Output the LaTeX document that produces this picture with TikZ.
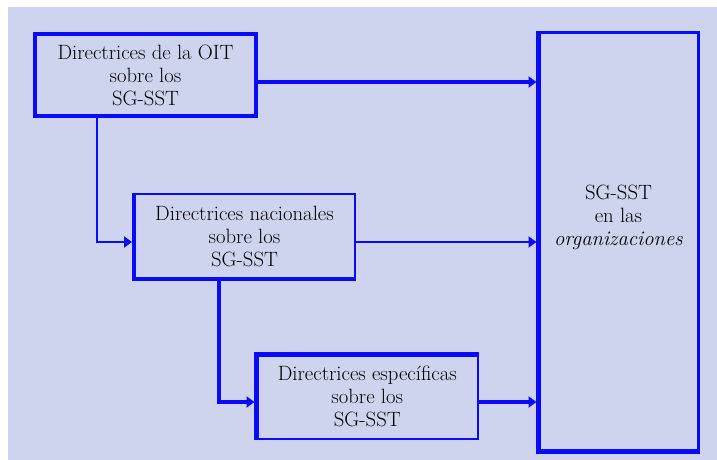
\documentclass[tikz,border=0pt]{standalone}
\usepackage{fontspec}
\usetikzlibrary{arrows.meta,calc}
\definecolor{bgcol}{RGB}{206,211,238}
\definecolor{lineblue}{RGB}{10,10,250}
\begin{document}
\begin{tikzpicture}[x=1pt,y=-1pt,
  font=\rmfamily\fontsize{20.7}{23}\selectfont,
  box/.style={draw=lineblue,line width=2.5pt,fill=bgcol,inner sep=0pt,outer sep=0pt,align=center},
  thickside/.style={draw=lineblue,line width=4.5pt,shorten <=-1.25pt,shorten >=-1.25pt},
  thinconn/.style={draw=lineblue,line width=2pt},
  thickconn/.style={draw=lineblue,line width=3.5pt},
  tip/.style={-{Triangle[length=8pt,width=11pt]}}]
\useasboundingbox (0,0) rectangle (717,460);
\fill[white] (0,0) rectangle (717,460);
\fill[bgcol] (8,7) rectangle (717,460);
% boxes
\node[box,minimum width=221pt,minimum height=82pt] (b1) at (145.5,75) {Directrices de la OIT\\sobre los\\SG-SST};
\node[box,minimum width=221pt,minimum height=85pt] (b2) at (244.5,236.5) {Directrices nacionales\\sobre los\\SG-SST};
\node[box,minimum width=221.5pt,minimum height=84.5pt] (b3) at (367.25,396.75) {Directrices específicas\\sobre los\\SG-SST};
\node[box,minimum width=160pt,minimum height=419pt] (b4) at (618.5,242) {};
\node[align=center,inner sep=0pt] (t4) at (618.5,217) {SG-SST\\en las\\\textit{organizaciones}};
% thick sides
\draw[draw=lineblue,line width=4.5pt] (b1.north west) rectangle (b1.south east);
\draw[thickside] (b2.north west) -- (b2.south west) -- (b2.south east);
\draw[thickside] (b3.south west) -- (b3.north west) -- (b3.north east);
\draw[thickside] (b4.north west) -- (b4.south west) -- (b4.south east);
% levels
\coordinate (l1) at (0,82);
\coordinate (l2) at (0,242);
\coordinate (l3) at (0,402);
\coordinate (x1) at (97,0);
\coordinate (x2) at (219,0);
% connectors
\draw[thickconn,tip] (b1.east |- l1) -- ($(b4.west |- l1)+(-2,0)$);
\draw[thinconn,tip] (b2.east |- l2) -- ($(b4.west |- l2)+(-2,0)$);
\draw[thickconn,tip] (b3.east |- l3) -- ($(b4.west |- l3)+(-2,0)$);
\draw[thinconn,tip] (b1.south -| x1) |- ($(b2.west |- l2)+(-2,0)$);
\draw[thickconn,tip] (b2.south -| x2) |- ($(b3.west |- l3)+(-2,0)$);
\end{tikzpicture}
\end{document}
